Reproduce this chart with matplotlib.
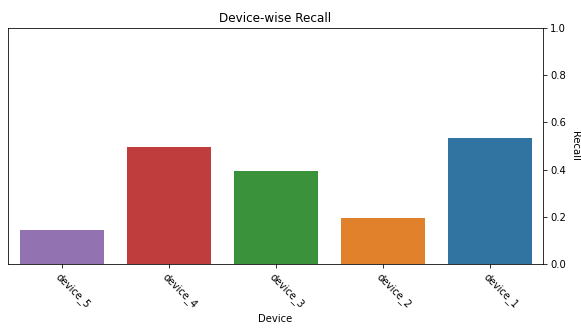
import matplotlib
matplotlib.use("Agg")
import matplotlib.pyplot as plt

devices = ["device_5", "device_4", "device_3", "device_2", "device_1"]
recall = [0.15, 0.50, 0.40, 0.20, 0.54]
colors = ["#9372b2", "#c03d3e", "#3a923a", "#e1812c", "#3274a1"]

fig = plt.figure(figsize=(581/72, 336/72), dpi=72)
ax = fig.add_axes([8/581, 1 - 264/336, (543-8)/581, (264-28)/336])
x = list(range(len(devices)))
ax.bar(x, recall, width=0.8, color=colors, edgecolor="white", linewidth=1)
ax.set_xlim(-0.5, len(devices) - 0.5)
ax.set_ylim(0, 1.0)
ax.set_xticks(x)
ax.set_xticklabels(devices, rotation=-45, ha="left", rotation_mode="anchor", fontsize=10)
ax.yaxis.tick_right()
ax.yaxis.set_label_position("right")
ax.set_yticks([0.0, 0.2, 0.4, 0.6, 0.8, 1.0])
ax.tick_params(labelsize=10)
ax.set_ylabel("Recall", rotation=270, labelpad=14, fontsize=10)
ax.set_xlabel("Device", fontsize=10)
ax.set_title("Device-wise Recall", fontsize=12)
fig.savefig("out.png", dpi=72)
